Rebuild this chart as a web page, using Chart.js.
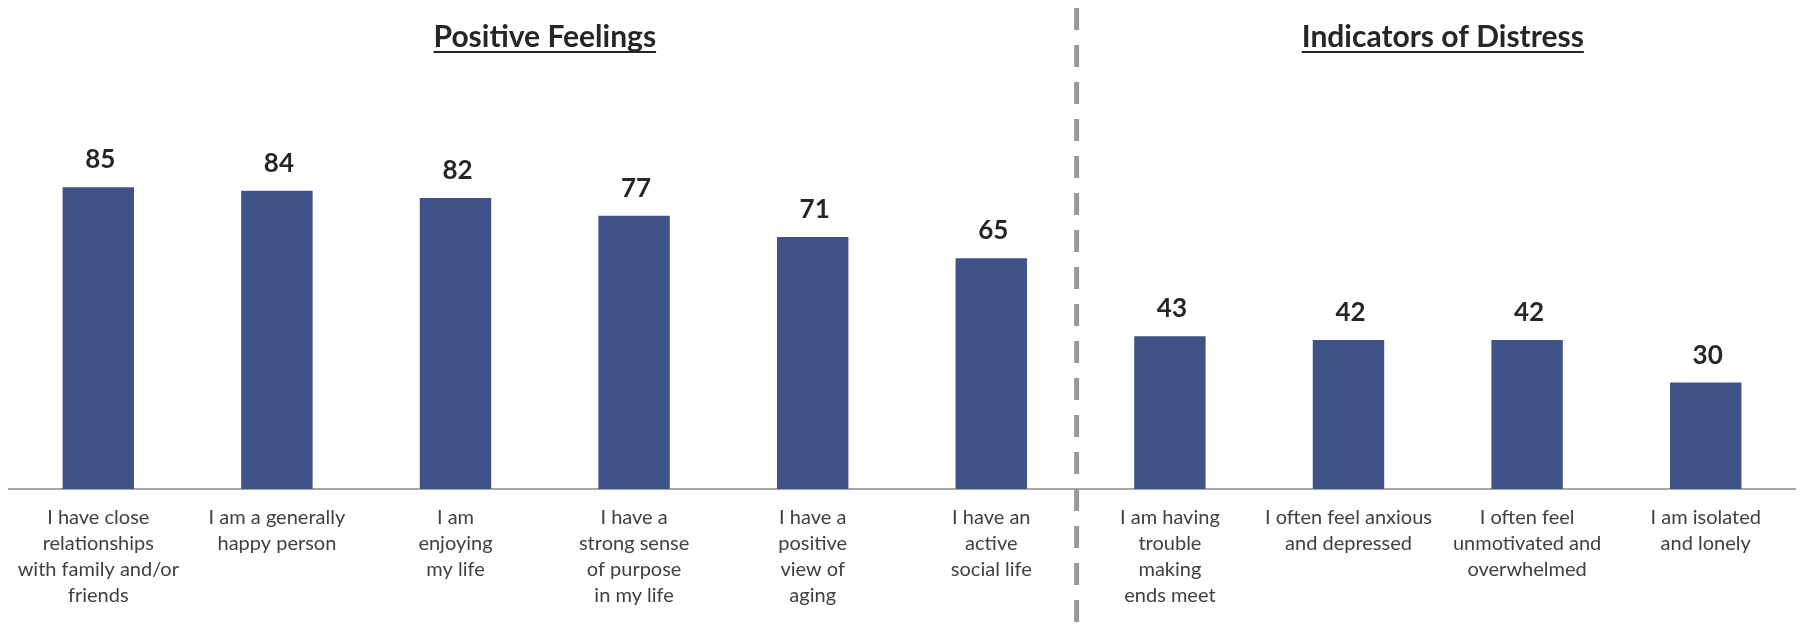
<!DOCTYPE html>
<html lang="en">
<head>
  <meta charset="UTF-8">
  <title>Positive Feelings vs Indicators of Distress</title>
  <script src="https://cdn.jsdelivr.net/npm/chart.js"></script>
</head>

<style>
  html, body {
    margin: 0;
    padding: 0;
    background: #ffffff;
  }
  #wrap {
    width: 1800px;
    height: 624px;
  }
</style>

<body>
  <div id="wrap">
    <canvas id="myChart" width="1800" height="624"></canvas>
  </div>
</body>

<script>
  // data
  const labels = [
    ["I have close", "relationships", "with family and/or", "friends"],
    ["I am a generally", "happy person"],
    ["I am", "enjoying", "my life"],
    ["I have a", "strong sense", "of purpose", "in my life"],
    ["I have a", "positive", "view of", "aging"],
    ["I have an", "active", "social life"],
    ["I am having", "trouble", "making", "ends meet"],
    ["I often feel anxious", "and depressed"],
    ["I often feel", "unmotivated and", "overwhelmed"],
    ["I am isolated", "and lonely"]
  ]
  const values = [85, 84, 82, 77, 71, 65, 43, 42, 42, 30]
  const groupTitles = ["Positive Feelings", "Indicators of Distress"]
  const groupSizes = [6, 4]

  const fontName = "Lato, 'Open Sans', sans-serif"

  // titles, divider and value labels
  const extras = {
    id: 'extras',
    afterDatasetsDraw(chart) {
      const ctx = chart.ctx
      const xs = chart.scales.x
      const meta = chart.getDatasetMeta(0)

      // value labels above bars
      ctx.save()
      ctx.fillStyle = '#262626'
      ctx.font = "bold 26px " + fontName
      ctx.textAlign = 'center'
      ctx.textBaseline = 'alphabetic'
      meta.data.forEach((bar, i) => {
        ctx.fillText(String(values[i]), bar.x + 2, bar.y - 19)
      })
      ctx.restore()

      // dashed divider between the groups
      const split = (xs.getPixelForValue(groupSizes[0] - 1) + xs.getPixelForValue(groupSizes[0])) / 2 - 4
      ctx.save()
      ctx.strokeStyle = '#999999'
      ctx.lineWidth = 5
      ctx.setLineDash([22, 15])
      ctx.beginPath()
      ctx.moveTo(split, 8)
      ctx.lineTo(split, chart.height)
      ctx.stroke()
      ctx.restore()

      // group titles, underlined
      let start = 0
      groupTitles.forEach((t, g) => {
        const first = xs.getPixelForValue(start)
        const last = xs.getPixelForValue(start + groupSizes[g] - 1)
        let cx = (first + last) / 2
        if (g === 1) cx += 5
        start += groupSizes[g]
        ctx.save()
        ctx.fillStyle = '#262626'
        ctx.font = "bold 30px " + fontName
        ctx.textAlign = 'center'
        ctx.textBaseline = 'alphabetic'
        ctx.fillText(t, cx, 47)
        const w = ctx.measureText(t).width
        ctx.strokeStyle = '#262626'
        ctx.lineWidth = 2
        ctx.beginPath()
        ctx.moveTo(cx - w / 2, 52)
        ctx.lineTo(cx + w / 2, 52)
        ctx.stroke()
        ctx.restore()
      })
    }
  }

  new Chart(document.getElementById('myChart'), {
    type: 'bar',
    data: {
      labels: labels,
      datasets: [{
        data: values,
        backgroundColor: '#405388',
        borderWidth: 0,
        barPercentage: 0.4,
        categoryPercentage: 1.0
      }]
    },
    options: {
      responsive: false,
      animation: false,
      layout: {
        padding: { top: 134, left: 9, right: 5, bottom: 0 }
      },
      plugins: {
        legend: { display: false },
        tooltip: { enabled: false }
      },
      scales: {
        x: {
          grid: { display: false, drawTicks: false },
          border: { display: true, color: '#a6a6a6', width: 2 },
          ticks: {
            color: '#404040',
            font: { family: fontName, size: 20, lineHeight: '26px' },
            padding: 16,
            maxRotation: 0,
            autoSkip: false
          },
          afterFit: (scale) => { scale.height = 135 }
        },
        y: {
          display: false,
          min: 0,
          max: 100
        }
      }
    },
    plugins: [extras]
  });
</script>

</html>
